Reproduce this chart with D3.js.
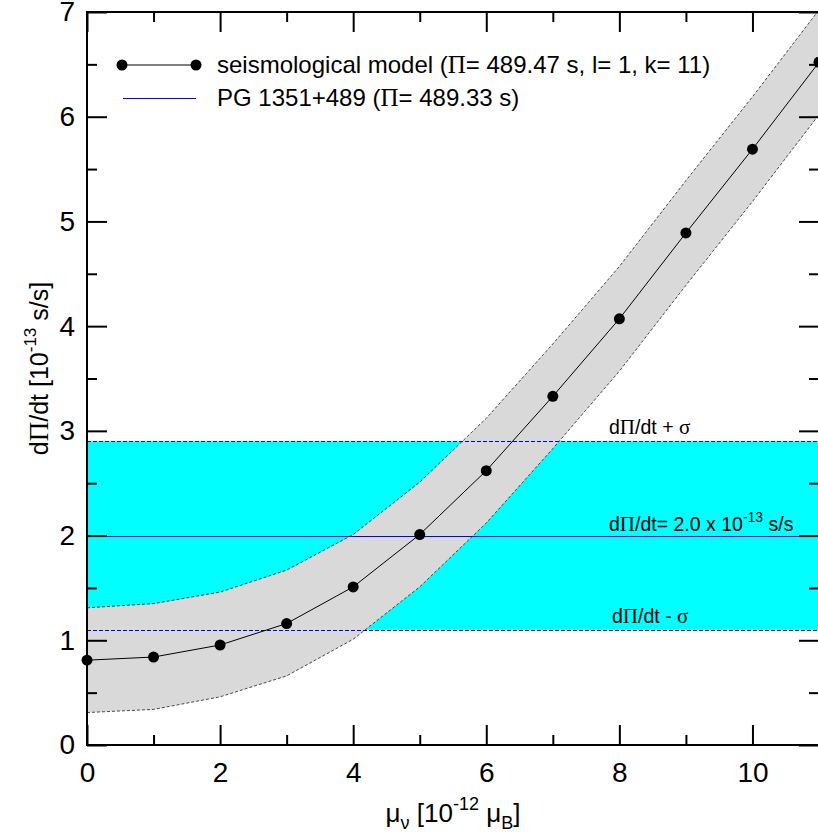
<!DOCTYPE html>
<html>
<head>
<meta charset="utf-8">
<script src="https://cdn.jsdelivr.net/npm/d3@7"></script>
<style>
  body { margin: 0; background: #fff; }
  text { font-family: "Liberation Sans", Arial, sans-serif; fill: #000; }
  .sym { font-family: "Liberation Serif", "Times New Roman", serif; }
</style>
</head>
<body>
<svg id="chart" width="818" height="836"></svg>
<script>
// magnetic moment of the neutrino [10^-12 mu_B]
const muNu = [0, 1, 2, 3, 4, 5, 6, 7, 8, 9, 10, 11];
// dPi/dt of the seismological model [10^-13 s/s]
const modelRate = [0.81, 0.84, 0.955, 1.16, 1.51, 2.01, 2.62, 3.33, 4.07, 4.89, 5.69, 6.52];
const bandUpper = [1.31, 1.35, 1.46, 1.67, 2.01, 2.51, 3.12, 3.83, 4.57, 5.39, 6.19, 7.02];
const bandLower = [0.31, 0.34, 0.46, 0.66, 1.01, 1.51, 2.12, 2.83, 3.57, 4.39, 5.19, 6.02];
// observed value for PG 1351+489 and its sigma
const observed = 2.0;
const obsLow = 1.1;
const obsHigh = 2.9;

const xTicks = [0, 2, 4, 6, 8, 10];
const xMinor = [1, 3, 5, 7, 9, 11];
const yTicks = [0, 1, 2, 3, 4, 5, 6, 7];
const yMinor = [0.5, 1.5, 2.5, 3.5, 4.5, 5.5, 6.5];

const svg = d3.select('#chart');
const pLeft = 87, pRight = 819, pTop = 12, pBottom = 745;

const x = d3.scaleLinear().domain([0, 11]).range([pLeft, pRight]);
const y = d3.scaleLinear().domain([0, 7]).range([pBottom, pTop]);
const crisp = v => Math.round(y(v)) + 0.5;

svg.append('clipPath').attr('id', 'clip')
  .append('rect').attr('x', pLeft).attr('y', pTop).attr('width', pRight - pLeft).attr('height', pBottom - pTop);
const inner = svg.append('g').attr('clip-path', 'url(#clip)');

// observed range (cyan)
inner.append('rect')
  .attr('x', pLeft).attr('width', pRight - pLeft)
  .attr('y', y(obsHigh)).attr('height', y(obsLow) - y(obsHigh))
  .attr('fill', '#00ffff');

// model uncertainty band
const pts = muNu.map((d, i) => ({x: d, m: modelRate[i], lo: bandLower[i], hi: bandUpper[i]}));
inner.append('path')
  .datum(pts)
  .attr('fill', '#d9d9d9')
  .attr('d', d3.area().x(d => x(d.x)).y0(d => y(d.lo)).y1(d => y(d.hi)));

[d => d.lo, d => d.hi].forEach(acc => {
  inner.append('path')
    .datum(pts)
    .attr('fill', 'none')
    .attr('stroke', '#222')
    .attr('stroke-width', 0.8)
    .attr('stroke-dasharray', '3,2')
    .attr('d', d3.line().x(d => x(d.x)).y(d => y(acc(d))));
});

// observed lines
inner.append('line')
  .attr('x1', pLeft).attr('x2', pRight).attr('y1', crisp(observed)).attr('y2', crisp(observed))
  .attr('stroke', '#0000ff').attr('stroke-width', 1);
[obsLow, obsHigh].forEach(v => {
  inner.append('line')
    .attr('x1', pLeft).attr('x2', pRight).attr('y1', crisp(v)).attr('y2', crisp(v))
    .attr('stroke', '#0000ff').attr('stroke-width', 1).attr('stroke-dasharray', '4,2');
});

// model line + points
inner.append('path')
  .datum(pts)
  .attr('fill', 'none').attr('stroke', '#000').attr('stroke-width', 1)
  .attr('d', d3.line().x(d => x(d.x)).y(d => y(d.m)));
svg.selectAll('circle.pt')
  .data(pts)
  .enter().append('circle')
  .attr('class', 'pt')
  .attr('cx', d => x(d.x)).attr('cy', d => y(d.m)).attr('r', 5.5)
  .attr('fill', '#000');

// band labels
function symLabel(parts, xp, yp) {
  const t = svg.append('text').attr('x', xp).attr('y', yp).attr('font-size', 19.5);
  parts.forEach(p => {
    const s = t.append('tspan').text(p.t);
    if (p.sym) s.attr('class', 'sym').attr('font-size', 21);
    if (p.sup) s.attr('dy', -9).attr('font-size', 14);
    if (p.down) s.attr('dy', 9);
  });
  return t;
}
symLabel([{t: 'd'}, {t: 'Π', sym: true}, {t: '/dt + '}, {t: 'σ', sym: true}], 609, y(obsHigh) - 7);
symLabel([{t: 'd'}, {t: 'Π', sym: true}, {t: '/dt= 2.0 x 10'}, {t: '-13', sup: true}, {t: ' s/s', down: true}], 609, y(observed) - 5);
symLabel([{t: 'd'}, {t: 'Π', sym: true}, {t: '/dt - '}, {t: 'σ', sym: true}], 612, y(obsLow) - 7);

// axes: ticks point inward on all four sides
function styleAxis(g) {
  g.select('.domain').remove();
  g.selectAll('line').attr('stroke', '#000').attr('stroke-width', 2);
  g.selectAll('text').attr('font-family', '"Liberation Sans", Arial, sans-serif').attr('font-size', 28);
}
const fmt = d3.format('d');
svg.append('g').attr('transform', `translate(0,${pBottom})`)
  .call(d3.axisBottom(x).tickValues(xTicks).tickSize(-20).tickPadding(17).tickFormat(fmt))
  .call(styleAxis);
svg.append('g').attr('transform', `translate(0,${pBottom})`)
  .call(d3.axisBottom(x).tickValues(xMinor).tickSize(-10).tickFormat(''))
  .call(styleAxis);
svg.append('g').attr('transform', `translate(0,${pTop})`)
  .call(d3.axisTop(x).tickValues(xTicks).tickSize(-20).tickFormat(''))
  .call(styleAxis);
svg.append('g').attr('transform', `translate(0,${pTop})`)
  .call(d3.axisTop(x).tickValues(xMinor).tickSize(-10).tickFormat(''))
  .call(styleAxis);
svg.append('g').attr('transform', `translate(${pLeft},0)`)
  .call(d3.axisLeft(y).tickValues(yTicks).tickSize(-20).tickPadding(12).tickFormat(fmt))
  .call(styleAxis);
svg.append('g').attr('transform', `translate(${pLeft},0)`)
  .call(d3.axisLeft(y).tickValues(yMinor).tickSize(-10).tickFormat(''))
  .call(styleAxis);
svg.append('g').attr('transform', `translate(${pRight},0)`)
  .call(d3.axisRight(y).tickValues(yTicks).tickSize(-20).tickFormat(''))
  .call(styleAxis);
svg.append('g').attr('transform', `translate(${pRight},0)`)
  .call(d3.axisRight(y).tickValues(yMinor).tickSize(-10).tickFormat(''))
  .call(styleAxis);

// frame
svg.append('rect')
  .attr('x', pLeft).attr('y', pTop).attr('width', pRight - pLeft).attr('height', pBottom - pTop)
  .attr('fill', 'none').attr('stroke', '#000').attr('stroke-width', 2);

// axis titles
const xTitle = svg.append('text').attr('x', (pLeft + pRight) / 2).attr('y', 822)
  .attr('text-anchor', 'middle').attr('font-size', 26);
xTitle.append('tspan').text('μ');
xTitle.append('tspan').attr('font-size', 18).attr('dy', 7).text('ν');
xTitle.append('tspan').attr('dy', -7).text(' [10');
xTitle.append('tspan').attr('font-size', 18).attr('dy', -12).text('-12');
xTitle.append('tspan').attr('dy', 12).text(' μ');
xTitle.append('tspan').attr('font-size', 18).attr('dy', 7).text('B');
xTitle.append('tspan').attr('dy', -7).text(']');

const yTitle = svg.append('text')
  .attr('transform', `translate(48,${(pTop + pBottom) / 2 - 10}) rotate(-90)`)
  .attr('text-anchor', 'middle').attr('font-size', 25);
yTitle.append('tspan').text('d');
yTitle.append('tspan').attr('class', 'sym').attr('font-size', 27).text('Π');
yTitle.append('tspan').text('/dt [10');
yTitle.append('tspan').attr('font-size', 17).attr('dy', -12).text('-13');
yTitle.append('tspan').attr('dy', 12).text(' s/s]');

// legend
const lg = svg.append('g');
lg.append('line').attr('x1', 122).attr('x2', 196).attr('y1', 65).attr('y2', 65)
  .attr('stroke', '#000').attr('stroke-width', 1);
lg.selectAll('circle').data([122, 196]).enter().append('circle')
  .attr('cx', d => d).attr('cy', 65).attr('r', 5.5).attr('fill', '#000');
const l1 = lg.append('text').attr('x', 217).attr('y', 73).attr('font-size', 24);
l1.append('tspan').text('seismological model (');
l1.append('tspan').attr('class', 'sym').attr('font-size', 25).text('Π');
l1.append('tspan').text('= 489.47 s, l= 1, k= 11)');
lg.append('line').attr('x1', 123).attr('x2', 196).attr('y1', 98.5).attr('y2', 98.5)
  .attr('stroke', '#0000ff').attr('stroke-width', 1);
const l2 = lg.append('text').attr('x', 217).attr('y', 106).attr('font-size', 24);
l2.append('tspan').text('PG 1351+489 (');
l2.append('tspan').attr('class', 'sym').attr('font-size', 25).text('Π');
l2.append('tspan').text('= 489.33 s)');
</script>
</body>
</html>
